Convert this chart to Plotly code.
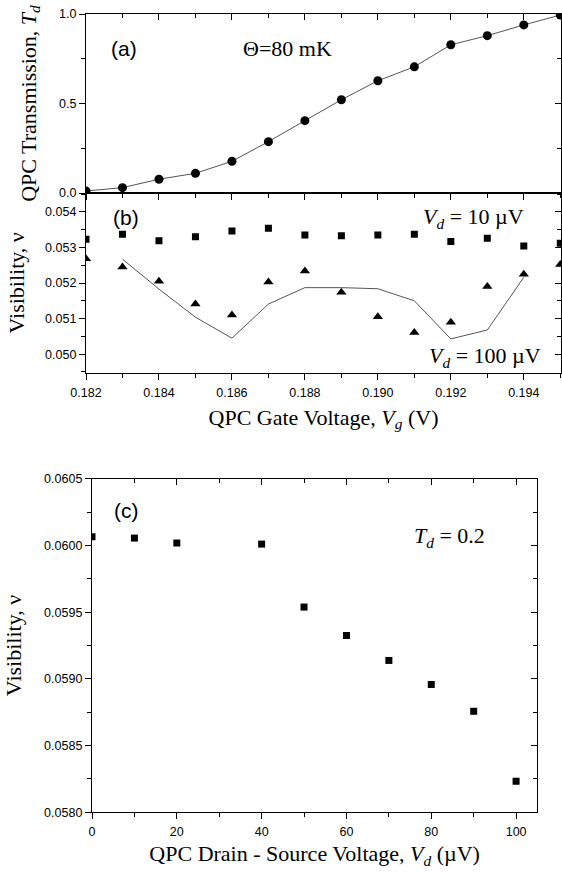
import plotly.graph_objects as go

# (a) QPC transmission vs gate voltage
vg = [0.182, 0.183, 0.184, 0.185, 0.186, 0.187, 0.188,
      0.189, 0.190, 0.191, 0.192, 0.193, 0.194, 0.195]
td = [0.011, 0.030, 0.077, 0.110, 0.177, 0.287, 0.404,
      0.521, 0.627, 0.705, 0.828, 0.879, 0.939, 0.994]

# (b) visibility vs gate voltage, two drain biases + calculated curve
vis_10uv = [0.05323, 0.05337, 0.05319, 0.05330, 0.05346, 0.05354, 0.05335,
            0.05333, 0.05335, 0.05337, 0.05317, 0.05326, 0.05304, 0.05312]
vis_100uv = [0.05268, 0.05245, 0.05205, 0.05141, 0.05110, 0.05203, 0.05234,
             0.05174, 0.05105, 0.05061, 0.05090, 0.05190, 0.05225, 0.05252]
vg_calc = [0.183, 0.184, 0.185, 0.186, 0.187, 0.188,
           0.189, 0.190, 0.191, 0.192, 0.193, 0.194]
vis_calc = [0.05267, 0.05183, 0.05104, 0.05045, 0.05141, 0.05187,
            0.05187, 0.05184, 0.05150, 0.05043, 0.05068, 0.05216]

# (c) visibility vs drain-source voltage at Td = 0.2
vd = [0, 10, 20, 40, 50, 60, 70, 80, 90, 100]
vis_td02 = [0.060065, 0.060055, 0.060018, 0.060010, 0.059538,
            0.059325, 0.059138, 0.058958, 0.058757, 0.058232]

SANS = "Liberation Sans, Arial, sans-serif"
SERIF = "Liberation Serif, Times New Roman, serif"
W, H = 562, 874


def px_x(a, b):
    return [a / W, b / W]


def px_y(top, bottom):
    return [1 - bottom / H, 1 - top / H]


XA = px_x(86, 561)
YA = px_y(14, 193)
YB = px_y(193, 372.7)
XC = px_x(92, 537.3)
YC = px_y(478.7, 812.3)


def ax(domain, rng, dtick, minor, tick0=None, fmt=None, labels=True,
       ticks="outside", **kw):
    d = dict(domain=domain, range=rng, dtick=dtick, tick0=tick0,
             tickformat=fmt, showticklabels=labels, ticks=ticks,
             ticklen=6, tickwidth=1.2, tickcolor="black",
             minor=dict(dtick=minor, tick0=tick0, ticks=ticks, ticklen=4,
                        tickwidth=1, tickcolor="black"),
             showline=True, linecolor="black", linewidth=1.3,
             showgrid=False, zeroline=False,
             tickfont=dict(family=SANS, size=12.5, color="black"))
    d.update(kw)
    return d


def title(text, standoff):
    return dict(text=text, standoff=standoff,
                font=dict(family=SERIF, size=22, color="black"))


fig = go.Figure()
fig.add_trace(go.Scatter(x=vg, y=td, mode="lines+markers", xaxis="x", yaxis="y",
                         line=dict(color="#555", width=1),
                         marker=dict(symbol="circle", size=9, color="black")))
fig.add_trace(go.Scatter(x=vg, y=vis_10uv, mode="markers", xaxis="x2", yaxis="y2",
                         marker=dict(symbol="square", size=7, color="black")))
fig.add_trace(go.Scatter(x=vg, y=vis_100uv, mode="markers", xaxis="x2", yaxis="y2",
                         marker=dict(symbol="triangle-up", size=9, color="black")))
fig.add_trace(go.Scatter(x=vg_calc, y=vis_calc, mode="lines", xaxis="x2", yaxis="y2",
                         line=dict(color="#555", width=1)))
fig.add_trace(go.Scatter(x=vd, y=vis_td02, mode="markers", xaxis="x3", yaxis="y3",
                         marker=dict(symbol="square", size=7, color="black")))

# empty traces so the mirrored (top / right) frame axes get drawn
for xa, ya in [("x4", "y"), ("x", "y4"), ("x5", "y2"), ("x2", "y5"),
               ("x6", "y3"), ("x3", "y6")]:
    fig.add_trace(go.Scatter(x=[], y=[], xaxis=xa, yaxis=ya, hoverinfo="skip"))

rx = [0.182, 0.19502]
ra = [-1e-9, 1 + 1e-9]
rb = [0.04948, 0.05453]
rxc = [0, 105]
rc = [0.058 - 1e-9, 0.0605 + 1e-9]

fig.update_layout(
    width=W, height=H, template="none", showlegend=False,
    paper_bgcolor="white", plot_bgcolor="rgba(0,0,0,0)",
    margin=dict(l=0, r=0, t=0, b=0),
    # panel a
    xaxis=ax(XA, rx, 0.002, 0.001, tick0=0.182, labels=False, anchor="y"),
    yaxis=ax(YA, ra, 0.5, 0.25, tick0=0, fmt=".1f", anchor="x",
             title=title("QPC Transmission, <i>T<sub>d</sub></i>", 16)),
    xaxis4=ax(XA, rx, 0.002, 0.001, tick0=0.182, labels=False, ticks="inside",
              side="top", anchor="y", overlaying="x"),
    yaxis4=ax(YA, ra, 0.5, 0.25, tick0=0, labels=False, ticks="inside",
              side="right", anchor="x", overlaying="y"),
    # panel b
    xaxis2=ax(XA, rx, 0.002, 0.001, tick0=0.182, fmt=".3f", anchor="y2",
              ticklabelstandoff=2,
              title=title("QPC Gate Voltage, <i>V<sub>g</sub></i> (V)", 10)),
    yaxis2=ax(YB, rb, 0.001, 0.0005, tick0=0.05, fmt=".3f", anchor="x2",
              title=title("Visibility, ν", 14)),
    xaxis5=ax(XA, rx, 0.002, 0.001, tick0=0.182, labels=False, ticks="inside",
              side="top", anchor="y2", overlaying="x2"),
    yaxis5=ax(YB, rb, 0.001, 0.0005, tick0=0.05, labels=False, ticks="inside",
              side="right", anchor="x2", overlaying="y2"),
    # panel c
    xaxis3=ax(XC, rxc, 20, 10, tick0=0, anchor="y3", ticklabelstandoff=2,
              title=title("QPC Drain - Source Voltage, <i>V<sub>d</sub></i> (µV)", 7)),
    yaxis3=ax(YC, rc, 0.0005, 0.00025, tick0=0.058, fmt=".4f", anchor="x3",
              title=title("Visibility, ν", 16)),
    xaxis6=ax(XC, rxc, 20, 10, tick0=0, labels=False, ticks="inside",
              side="top", anchor="y3", overlaying="x3"),
    yaxis6=ax(YC, rc, 0.0005, 0.00025, tick0=0.058, labels=False, ticks="inside",
              side="right", anchor="x3", overlaying="y3"),
)


def note(text, x, y, font):
    fig.add_annotation(text=text, x=x / W, y=1 - y / H, xref="paper", yref="paper",
                       showarrow=False, xanchor="center", yanchor="middle",
                       font=dict(family=font, size=21 if font == SANS else 22,
                                 color="black"))


note("(a)", 124, 48, SANS)
note("Θ=80 mK", 287, 48, SERIF)
note("(b)", 126, 218, SANS)
note("<i>V<sub>d</sub></i> = 10 µV", 474, 218, SERIF)
note("<i>V<sub>d</sub></i> = 100 µV", 485, 357, SERIF)
note("(c)", 126, 510, SANS)
note("<i>T<sub>d</sub></i> = 0.2", 449, 537, SERIF)

# page body has a default 8px margin; drop it so the figure fills the window
fig.write_html("out.html", config={"displayModeBar": False},
               post_script="document.body.style.margin = '0';")
